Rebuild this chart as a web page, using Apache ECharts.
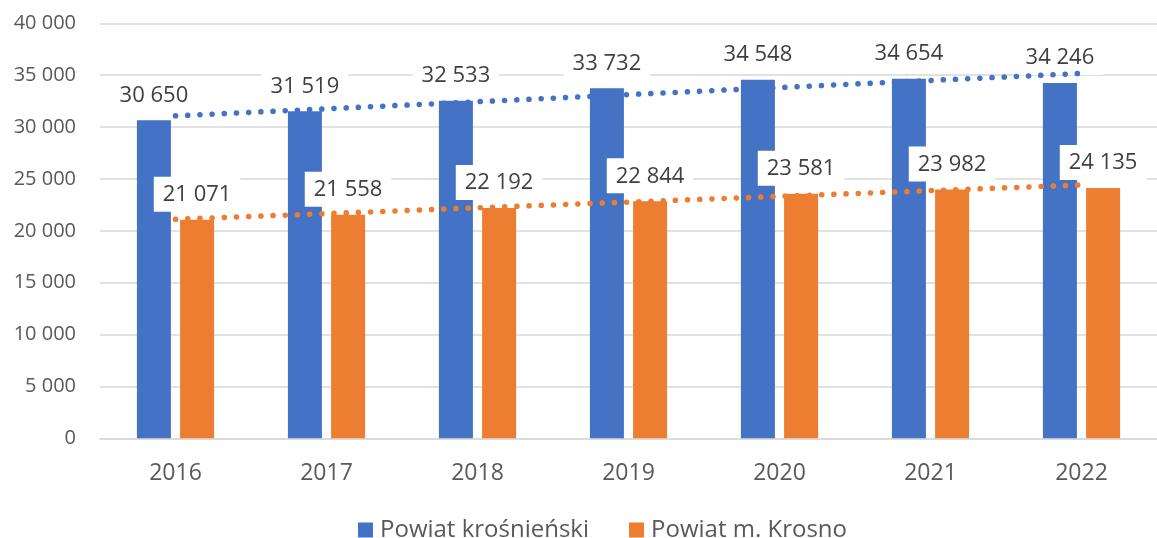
<!DOCTYPE html>
<html>
<head>
<meta charset="utf-8">
<script src="https://cdn.jsdelivr.net/npm/echarts@6/dist/echarts.min.js"></script>
<style>
html,body{margin:0;padding:0;background:#fff;}
#c{width:1157px;height:538px;}
</style>
</head>
<body>
<div id="c"></div>
<script>
const categories = ['2016','2017','2018','2019','2020','2021','2022'];
const seriesNames = ['Powiat krośnieński','Powiat m. Krosno'];
const krosnienski = [30650, 31519, 32533, 33732, 34548, 34654, 34246];
const krosno = [21071, 21558, 22192, 22844, 23581, 23982, 24135];
// linear trend lines
const trendKrosnienski = [31080, 31760, 32440, 33130, 33810, 34490, 35170];
const trendKrosno = [21110, 21660, 22220, 22770, 23320, 23870, 24420];
const yTicks = [0, 5000, 10000, 15000, 20000, 25000, 30000, 35000, 40000];

const BLUE = '#4472C4', ORANGE = '#ED7D31';
const FONT = "'Open Sans', 'Noto Sans', sans-serif";
function fmt(v){ return String(v).replace(/\B(?=(\d{3})+(?!\d))/g, ' '); }

const labelStyle = {
  show: true, position: 'top', distance: 8,
  formatter: p => fmt(p.value),
  fontFamily: FONT, fontSize: 22, color: '#404040',
  backgroundColor: '#ffffff', padding: [7, 9, 6, 9]
};

const chart = echarts.init(document.getElementById('c'), null, {renderer: 'canvas'});
chart.setOption({
  animation: false,
  backgroundColor: '#ffffff',
  grid: {left: 100, top: 23.3, width: 1071, height: 415, containLabel: false},
  legend: {
    data: seriesNames.map(n => ({name: n, icon: 'rect'})),
    top: 518, left: 358, padding: 0,
    itemWidth: 15, itemHeight: 15, itemGap: 40,
    textStyle: {fontFamily: FONT, fontSize: 24, color: '#595959', padding: [0, 0, 0, 2]}
  },
  xAxis: {
    type: 'category', data: categories,
    axisLine: {show: true, lineStyle: {color: '#d9d9d9', width: 1.5}},
    axisTick: {show: false},
    axisLabel: {fontFamily: FONT, fontSize: 23, color: '#595959', margin: 24}
  },
  yAxis: {
    type: 'value', min: yTicks[0], max: yTicks[yTicks.length-1], interval: 5000,
    axisLine: {show: false}, axisTick: {show: false},
    splitLine: {lineStyle: {color: '#d9d9d9', width: 1.5}},
    axisLabel: {fontFamily: FONT, fontSize: 20, color: '#595959', margin: 24, formatter: v => fmt(v)}
  },
  series: [
    {name: seriesNames[0], type: 'bar', data: krosnienski, barWidth: 34, barGap: '27%',
     itemStyle: {color: BLUE}, label: labelStyle, z: 2},
    {name: seriesNames[1], type: 'bar', data: krosno, barWidth: 34, barGap: '27%',
     itemStyle: {color: ORANGE}, label: labelStyle, z: 2},
    {name: 'trend1', type: 'line', data: trendKrosnienski, symbol: 'none', silent: true,
     lineStyle: {color: BLUE, width: 5.5, type: [0.1, 12.1], cap: 'round'}, z: 3},
    {name: 'trend2', type: 'line', data: trendKrosno, symbol: 'none', silent: true,
     lineStyle: {color: ORANGE, width: 5.5, type: [0.1, 12.1], cap: 'round'}, z: 3}
  ]
});
</script>
</body>
</html>
